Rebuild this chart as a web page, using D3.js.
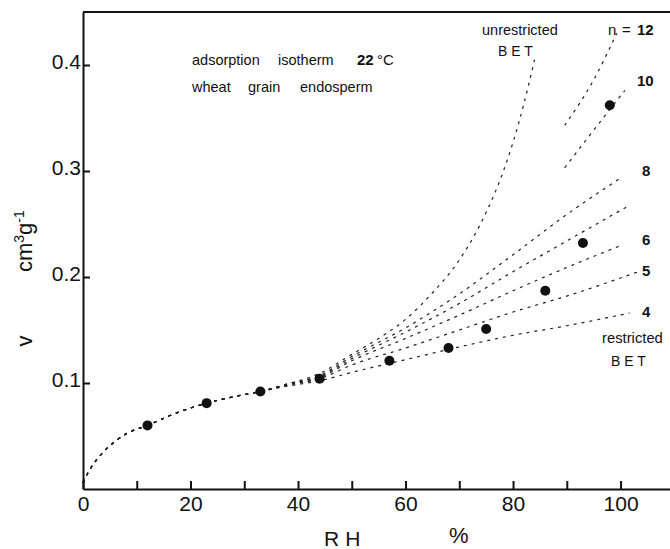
<!DOCTYPE html>
<html>
<head>
<meta charset="utf-8">
<script src="https://cdn.jsdelivr.net/npm/d3@7"></script>
<style>
  body { margin: 0; background: #fff; }
  svg text { font-family: "Liberation Sans", Arial, sans-serif; fill: #111; }
  .axis path, .axis line { stroke: #111; stroke-width: 2; }
  .axis text { font-size: 21px; }
  .curve { fill: none; stroke: #222; stroke-width: 1.2; stroke-dasharray: 3,5; }
</style>
</head>
<body>
<svg id="chart"></svg>
<script>
// measured points (RH %, v cm3/g)
const pointRH = [12, 23, 33, 44, 57, 68, 75, 86, 93, 98];
const pointV = [0.060, 0.081, 0.092, 0.104, 0.121, 0.133, 0.151, 0.187, 0.232, 0.362];

// common low-RH part of all curves
const baseRH = [0, 1, 2, 4, 6, 8, 12, 17, 23, 28, 33];
const baseV = [0.006, 0.016, 0.024, 0.036, 0.045, 0.052, 0.060, 0.071, 0.081, 0.087, 0.092];

// unrestricted BET branch
const unrestrictedRH = [38, 44, 50, 55, 60, 65, 70, 75, 78, 80, 82, 84];
const unrestrictedV = [0.099, 0.109, 0.127, 0.142, 0.160, 0.185, 0.216, 0.261, 0.297, 0.327, 0.363, 0.405];

// restricted BET branches, n layers
const branchRH = [38, 44, 50, 60, 70, 80, 90];
const n4V = [0.097, 0.102, 0.110, 0.122, 0.134, 0.145, 0.154];
const n5V = [0.098, 0.104, 0.117, 0.133, 0.150, 0.167, 0.182];
const n6V = [0.098, 0.105, 0.121, 0.142, 0.164, 0.187, 0.209];
const n7V = [0.099, 0.106, 0.123, 0.148, 0.175, 0.205, 0.234];
const n8V = [0.099, 0.107, 0.125, 0.152, 0.184, 0.221, 0.259];
const branchEnds = [[101.7, 0.166], [103.3, 0.205], [100.2, 0.230], [101.1, 0.266], [100.2, 0.294]];

// upper segments only
const n10RH = [89.6, 98, 100.8];
const n10V = [0.303, 0.358, 0.376];
const n12RH = [89.6, 95, 99.3];
const n12V = [0.343, 0.386, 0.430];

const xTicks = [0, 10, 20, 30, 40, 50, 60, 70, 80, 90, 100];
const yTicks = [0.1, 0.2, 0.3, 0.4];

class IsothermChart {

    constructor(_config) {
        this.config = {
            parentElement: _config.parentElement,
            containerWidth: 670,
            containerHeight: 549,
            margin: { top: 12, bottom: 60, right: 0, left: 83 }
        };
        this.initVis();
    }

    initVis() {
        let vis = this;

        vis.width = vis.config.containerWidth - vis.config.margin.left - vis.config.margin.right;
        vis.height = vis.config.containerHeight - vis.config.margin.top - vis.config.margin.bottom;

        vis.svg = d3.select(vis.config.parentElement)
            .attr('width', vis.config.containerWidth)
            .attr('height', vis.config.containerHeight);

        vis.chart = vis.svg.append('g')
            .attr('transform', `translate(${vis.config.margin.left},${vis.config.margin.top})`);

        vis.xScale = d3.scaleLinear().domain([0, 109.2]).range([0, vis.width]);
        vis.yScale = d3.scaleLinear().domain([0, 0.45]).range([vis.height, 0]);

        vis.xAxis = d3.axisBottom(vis.xScale)
            .tickValues(xTicks)
            .tickSize(-8)
            .tickSizeOuter(0)
            .tickPadding(7)
            .tickFormat(d => d % 20 === 0 ? d : '');

        vis.yAxis = d3.axisLeft(vis.yScale)
            .tickValues(yTicks)
            .tickSize(-7)
            .tickSizeOuter(0)
            .tickPadding(2)
            .tickFormat(d3.format('.1f'));

        vis.line = d3.line()
            .x(d => vis.xScale(d[0]))
            .y(d => vis.yScale(d[1]))
            .curve(d3.curveMonotoneX);

        vis.renderVis();
    }

    renderVis() {
        let vis = this;
        const zip = (xs, ys) => xs.map((x, i) => [x, ys[i]]);

        const base = zip(baseRH, baseV);
        const curves = [
            base.concat(zip(unrestrictedRH, unrestrictedV)),
            base.concat(zip(branchRH, n4V), [branchEnds[0]]),
            base.concat(zip(branchRH, n5V), [branchEnds[1]]),
            base.concat(zip(branchRH, n6V), [branchEnds[2]]),
            base.concat(zip(branchRH, n7V), [branchEnds[3]]),
            base.concat(zip(branchRH, n8V), [branchEnds[4]]),
            zip(n10RH, n10V),
            zip(n12RH, n12V)
        ];

        vis.chart.selectAll('.curve')
            .data(curves)
            .join('path')
            .attr('class', 'curve')
            .attr('d', vis.line);

        vis.chart.selectAll('.pt')
            .data(zip(pointRH, pointV))
            .join('circle')
            .attr('class', 'pt')
            .attr('cx', d => vis.xScale(d[0]))
            .attr('cy', d => vis.yScale(d[1]))
            .attr('r', 5)
            .attr('fill', '#111');

        vis.chart.append('g')
            .attr('class', 'axis x-axis')
            .attr('transform', `translate(0,${vis.height})`)
            .call(vis.xAxis);

        vis.chart.append('g')
            .attr('class', 'axis y-axis')
            .call(vis.yAxis)
            .selectAll('text').attr('dy', '0.15em');

        // top frame line
        vis.chart.append('line')
            .attr('x1', 0).attr('x2', vis.width)
            .attr('y1', 0).attr('y2', 0)
            .attr('stroke', '#111').attr('stroke-width', 2);

        vis.chart.selectAll('.axis path.domain').attr('stroke-width', 2.5);

        // axis titles
        vis.svg.append('text').attr('x', 324).attr('y', 546)
            .style('font-size', '21px').style('letter-spacing', '6px').text('RH');
        vis.svg.append('text').attr('x', 449).attr('y', 543)
            .style('font-size', '22px').text('%');

        vis.svg.append('text')
            .attr('transform', 'translate(32,341) rotate(-90)')
            .attr('text-anchor', 'middle')
            .style('font-size', '22px').text('v');
        const yl = vis.svg.append('text')
            .attr('transform', 'translate(32,272) rotate(-90)')
            .style('font-size', '22px');
        yl.append('tspan').text('cm');
        yl.append('tspan').attr('dy', -8).style('font-size', '14px').text('3');
        yl.append('tspan').attr('dy', 8).text('g');
        yl.append('tspan').attr('dy', -8).style('font-size', '14px').text('-1');

        // annotations
        const note = (x, y, t, size, weight) => vis.svg.append('text')
            .attr('x', x).attr('y', y)
            .style('font-size', (size || 14.5) + 'px')
            .style('font-weight', weight || 'normal')
            .text(t);

        note(192, 65, 'adsorption');
        note(278, 65, 'isotherm');
        note(357, 65, '22', 15, 'bold');
        note(377, 65, '°C', 15);
        note(192, 92, 'wheat');
        note(248, 92, 'grain');
        note(300, 92, 'endosperm');

        note(482, 35, 'unrestricted');
        note(498, 56, 'B E T', 14);
        note(608, 35, 'n', 15);
        note(622, 35, '=', 15);
        note(637, 35, '12', 15, 'bold');
        note(637, 86, '10', 15, 'bold');
        note(642, 176, '8', 15, 'bold');
        note(642, 245, '6', 15, 'bold');
        note(642, 276, '5', 15, 'bold');
        note(642, 317, '4', 15, 'bold');
        note(602, 343, 'restricted', 14.8);
        note(611, 366, 'B E T', 14);
    }
}

new IsothermChart({ parentElement: '#chart' });
</script>
</body>
</html>
